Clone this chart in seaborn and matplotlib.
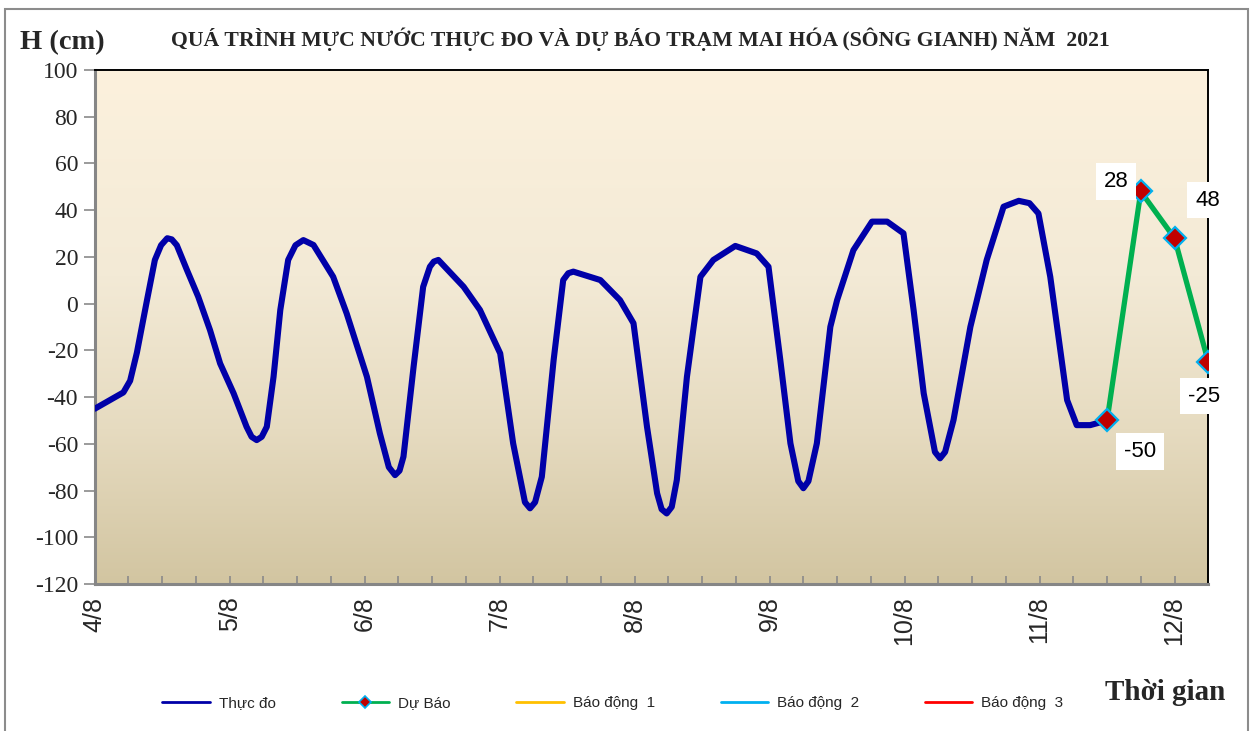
import numpy as np
import pandas as pd
import matplotlib
matplotlib.use("Agg")
import matplotlib.pyplot as plt
import seaborn as sns
from matplotlib.lines import Line2D
from matplotlib.colors import LinearSegmentedColormap
from matplotlib.patches import Rectangle

# ---------------- data (hours since 4/8 00h, water level cm) ----------------
obs_hours = [0, 5.1, 6.3, 7.5, 9.3, 10.7, 11.8, 12.9, 13.7, 14.6, 16.4, 18.4,
             20.5, 22.3, 24.7, 27.0, 27.9, 28.8, 29.7, 30.6, 31.8, 33.0, 34.4, 35.7, 37.1,
             38.9, 42.4, 44.8, 48.4, 50.7, 52.3, 53.4, 54.2, 54.9, 56.7, 58.4, 59.6, 60.3,
             61.1, 65.6, 68.5, 72.1, 74.4, 76.5, 77.4, 78.3, 79.5, 81.6, 83.3, 84.2, 85.1,
             89.9, 93.4, 95.8, 98.2, 100.0, 100.8, 101.7, 102.6, 103.5, 105.3, 107.7, 110.0,
             113.9, 117.7, 119.8, 121.9, 123.7, 125.1, 126.0, 126.9, 128.4, 130.8, 132.0,
             134.9, 138.2, 140.9, 143.8, 145.6, 147.4, 149.4, 150.3, 151.2, 152.7, 155.7,
             158.6, 161.6, 164.3, 166.2, 167.8, 169.9, 172.9, 174.6, 177.0, 180.0]
obs_level = [-45, -38, -33, -21, 1.5, 18.7, 25, 28, 27.5, 25, 14.4, 3,
             -11.3, -25.6, -38.4, -52.7, -57, -58.4, -57, -52.7, -31.3, -2.7, 18.7, 25, 27.2,
             25.1, 11.5, -4.2, -31.3, -55.5, -70, -73.4, -71.5, -65.5, -27, 7.2, 15.8, 18,
             18.7, 7.2, -2.7, -21.3, -59.8, -85, -87.6, -85, -74.1, -24.1, 10.1, 13, 13.7,
             10.1, 1.5, -8.4, -52.7, -81.2, -88, -89.8, -87, -75.5, -31.3, 11.5, 18.7,
             24.7, 21.5, 15.8, -24.1, -59.8, -76, -79, -76, -59.8, -9.9, 1.5,
             22.9, 35.1, 35.1, 30.1, -2.7, -38.4, -63.5, -66.2, -63.5, -49.8, -9.9,
             18.7, 41.5, 44, 43, 38.6, 11.5, -41.3, -52, -52, -50]

fc_hours = [180, 186, 192, 198]
fc_level = [-50, 48, 28, -25]
fc_labels = ["-50", "28", "48", "-25"]

day_hours = [0, 24, 48, 72, 96, 120, 144, 168, 192]
day_labels = ["4/8", "5/8", "6/8", "7/8", "8/8", "9/8", "10/8", "11/8", "12/8"]
y_ticks = [-120, -100, -80, -60, -40, -20, 0, 20, 40, 60, 80, 100]
legend_names = ["Thực đo", "Dự Báo", "Báo động  1", "Báo động  2", "Báo động  3"]

title = "QUÁ TRÌNH MỰC NƯỚC THỰC ĐO VÀ DỰ BÁO TRẠM MAI HÓA (SÔNG GIANH) NĂM  2021"

# ---------------- figure ----------------
sns.set_theme(style="white")
plt.rcParams["font.family"] = ["Liberation Sans", "DejaVu Sans"]

W, H = 1257, 731
fig = plt.figure(figsize=(W / 100, H / 100), dpi=100)
fig.patch.set_facecolor("white")
L, R, T, B = 94.7, 1208.3, 70, 584
ax = fig.add_axes([L / W, 1 - B / H, (R - L) / W, (B - T) / H])

# plot-area gradient background
grad = np.linspace(0, 1, 256).reshape(-1, 1)
cmap = LinearSegmentedColormap.from_list(
    "bg", [(0, "#D2C5A1"), (0.3, "#E6DBC0"), (0.6, "#F3EAD6"), (1, "#FCF1DD")])
ax.imshow(grad, extent=[0, 1, 0, 1], transform=ax.transAxes, origin="lower",
          cmap=cmap, aspect="auto", zorder=0)

obs = pd.DataFrame({"h": obs_hours, "v": obs_level})
sns.lineplot(data=obs, x="h", y="v", ax=ax, color="#0000A8", lw=4.4, sort=False,
             estimator=None, zorder=3, solid_joinstyle="round", solid_capstyle="round")

fc = pd.DataFrame({"h": fc_hours, "v": fc_level})
sns.lineplot(data=fc, x="h", y="v", ax=ax, color="#00B050", lw=3.8, sort=False,
             estimator=None, zorder=4, marker="D", markersize=11,
             markerfacecolor="#C00000", markeredgecolor="#00B0F0", markeredgewidth=1.6,
             solid_joinstyle="round")

offsets = [(33, -31), (-25, 10), (33, 38), (-4, -34)]
for h, v, lab, (dx, dy) in zip(fc_hours, fc_level, fc_labels, offsets):
    ax.annotate(lab, (h, v), xytext=(dx, dy), textcoords="offset pixels",
                ha="center", va="center", fontsize=16, color="black",
                bbox=dict(boxstyle="square,pad=0.35", fc="white", ec="none"),
                zorder=6, annotation_clip=False)

ax.set_xlim(0, 198)
ax.set_ylim(-120, 100)
ax.set_xlabel("")
ax.set_ylabel("")

ax.set_xticks(day_hours)
ax.set_xticklabels(day_labels, rotation=90, fontsize=18)
ax.set_xticks(np.arange(0, 199, 6), minor=True)
ax.tick_params(axis="x", which="both", direction="in", length=6, color="#8A8A8A",
               width=1.2, bottom=True, top=False)
ax.tick_params(axis="x", which="major", pad=9)

ax.set_yticks(y_ticks)
ax.set_yticklabels([str(t) for t in y_ticks], fontfamily="Liberation Serif", fontsize=17)
ax.tick_params(axis="y", which="major", direction="out", length=8, color="#8A8A8A",
               width=1.2, left=True, pad=4)
ax.grid(False)

for s in ["left", "bottom"]:
    ax.spines[s].set_color("#868686")
    ax.spines[s].set_linewidth(2.2)
for s in ["top", "right"]:
    ax.spines[s].set_color("black")
    ax.spines[s].set_linewidth(1.4)

fig.text(62 / W, 1 - 43 / H, "H (cm)", fontfamily="Liberation Serif", fontweight="bold",
         fontsize=20.5, ha="center", va="center")
fig.text(640 / W, 1 - 39 / H, title, fontfamily="Liberation Serif", fontweight="bold",
         fontsize=15.7, ha="center", va="center")
fig.text(1165 / W, 1 - 692 / H, "Thời gian", fontfamily="Liberation Serif",
         fontweight="bold", fontsize=21, ha="center", va="center")

handles = [
    Line2D([], [], color="#0000A8", lw=2),
    Line2D([], [], color="#00B050", lw=2, marker="D", ms=6, mfc="#C00000",
           mec="#00B0F0", mew=1.2),
    Line2D([], [], color="#FFC000", lw=2),
    Line2D([], [], color="#00B0F0", lw=2),
    Line2D([], [], color="#FF0000", lw=2),
]
fig.legend(handles, legend_names, loc="center", bbox_to_anchor=(613 / W, 1 - 703 / H),
           ncol=5, frameon=False, fontsize=11, handlelength=3.1, columnspacing=4.3,
           handletextpad=0.6)

fig.add_artist(Rectangle((5 / W, -0.05), (1248 - 5) / W, (H - 9) / H + 0.05,
                         transform=fig.transFigure, fill=False, edgecolor="#8C8C8C",
                         lw=1.5))

fig.savefig("out.png", dpi=100)
